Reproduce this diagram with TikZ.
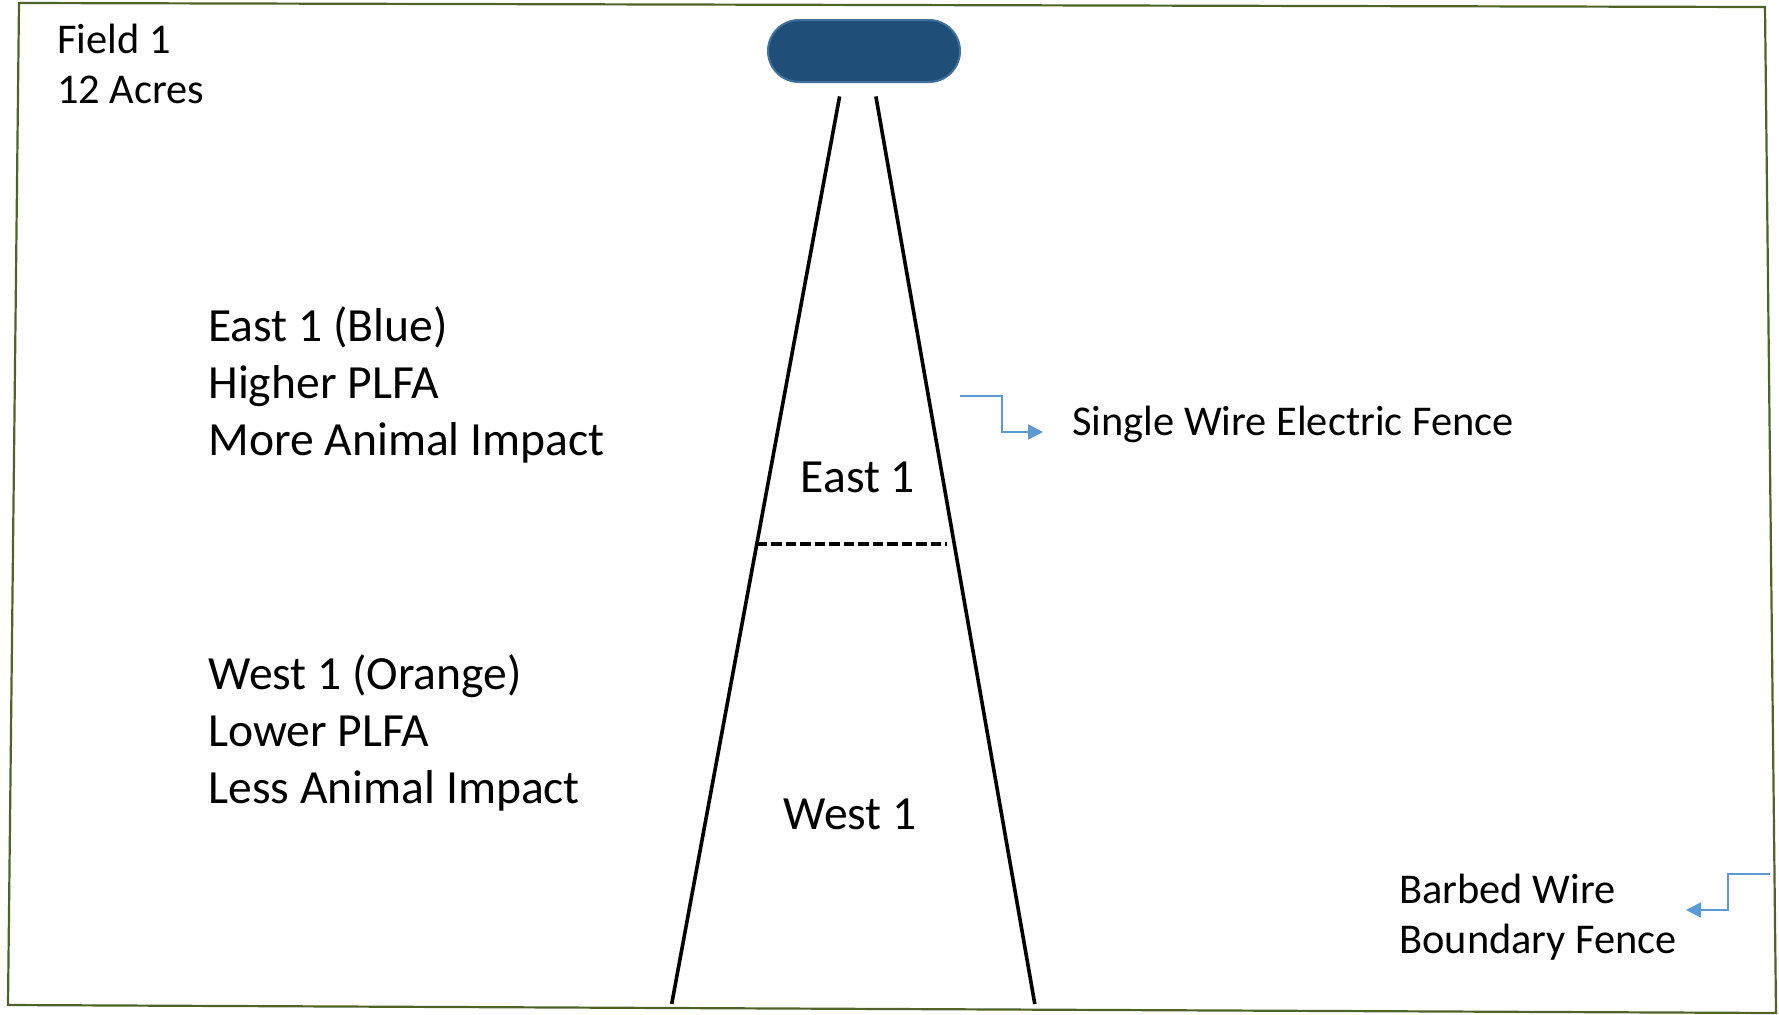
\documentclass[tikz,border=0pt]{standalone}
\usepackage{fontspec}
\setmainfont{Carlito}
\usetikzlibrary{calc}
\usetikzlibrary{positioning}
\usetikzlibrary{arrows.meta}

\definecolor{fieldgreen}{RGB}{79,98,40}
\definecolor{boxblue}{RGB}{31,78,121}
\definecolor{boxedge}{RGB}{65,113,156}
\definecolor{arrowblue}{RGB}{91,155,213}

\begin{document}
\begin{tikzpicture}[x=0.5pt,y=-0.5pt]

\tikzset{
    bigtxt/.style={inner sep=0pt, anchor=base west, font=\fontsize{23.8pt}{28.5pt}\selectfont},
    smalltxt/.style={inner sep=0pt, anchor=base west, font=\fontsize{21.2pt}{25pt}\selectfont},
    midtxt/.style={inner sep=0pt, anchor=base, font=\fontsize{23.8pt}{28.5pt}\selectfont},
    fenceline/.style={line width=1.8pt},
    divider/.style={line width=1.7pt, dash pattern=on 5.3pt off 1.95pt},
    boundary/.style={draw=fieldgreen, line width=1.1pt, line join=miter},
    wirearrow/.style={draw=arrowblue, line width=0.9pt, -{Triangle[length=7.5pt,width=7.5pt]}},
    energizer/.style={draw=boxedge, fill=boxblue, line width=1pt, rounded corners=15.5pt,
        minimum width=96pt, minimum height=31pt}
}

\useasboundingbox (0,0) rectangle (1779,1014);

%%%%%%%%%%%%%%%%%%%%%%%%%%%%%%%%%%%%%%%%%%%%%%%%%%%%%%%%%
%                       Begin Picture                   %
%%%%%%%%%%%%%%%%%%%%%%%%%%%%%%%%%%%%%%%%%%%%%%%%%%%%%%%%%

%boundary fence
\coordinate (c1) at (19,3);
\coordinate (c2) at (1765,7);
\coordinate (c3) at (1776,1013);
\coordinate (c4) at (8,1005);
\draw[boundary] (c1) -- (c2) -- (c3) -- (c4) -- cycle;

%field label
\node[smalltxt] (field) at (57,53) {Field 1};
\node[smalltxt, below=25pt of field.base west, anchor=base west] (acres) {12 Acres};

%energizer
\node[energizer] (box) at (864,51) {};

%fence lines
\coordinate (lt) at (839.6,96.4);
\coordinate (lb) at (671.7,1004);
\coordinate (rt) at (875.9,96.4);
\coordinate (rb) at (1034.8,1004);
\draw[fenceline] (lt) -- (lb);
\draw[fenceline] (rt) -- (rb);

%divider
\draw[divider, shorten >=3.5pt] ($(lt)!0.4932!(lb)$) -- ($(rt)!0.4932!(rb)$);

%strip labels
\node[midtxt] (east) at (858,492) {East 1};
\node[midtxt] (west) at (850,829) {West 1};

%east block
\node[bigtxt] (e1) at (208,341) {East 1 (Blue)};
\node[bigtxt, below=28.5pt of e1.base west, anchor=base west] (e2) {Higher PLFA};
\node[bigtxt, below=28.5pt of e2.base west, anchor=base west] (e3) {More Animal Impact};

%west block
\node[bigtxt] (w1) at (208,689) {West 1 (Orange)};
\node[bigtxt, below=28.5pt of w1.base west, anchor=base west] (w2) {Lower PLFA};
\node[bigtxt, below=28.5pt of w2.base west, anchor=base west] (w3) {Less Animal Impact};

%single wire
\node[smalltxt] (wire) at (1072,435) {Single Wire Electric Fence};
\coordinate (sw) at (960,396);
\draw[wirearrow] (sw) -- ++(42,0) |- ([xshift=-14.5pt, yshift=1.5pt]wire.base west);

%barbed wire
\node[smalltxt] (barb) at (1399,903) {Barbed Wire};
\node[smalltxt, below=25pt of barb.base west, anchor=base west] (bound) {Boundary Fence};
\coordinate (bw) at (1770,874);
\coordinate (bwtip) at (1686,910);
\draw[wirearrow] (bw) -- ++(-42,0) |- (bwtip);

\end{tikzpicture}
\end{document}
